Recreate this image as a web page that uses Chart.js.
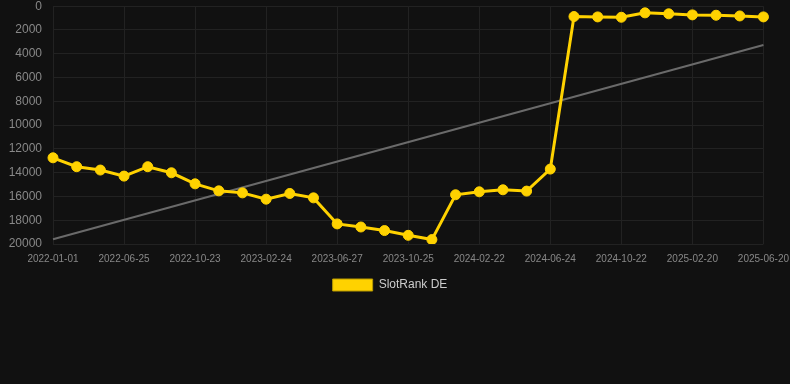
<!DOCTYPE html>
<html>
<head>
<meta charset="utf-8">
<script src="https://cdn.jsdelivr.net/npm/chart.js@4.4.1/dist/chart.umd.min.js"></script>
<style>
  html, body { margin: 0; padding: 0; background: #111111; overflow: hidden; }
  #wrap { width: 790px; height: 305px; position: relative; margin-top: -4px; }
</style>
</head>
<body>
<div id="wrap"><canvas id="c"></canvas></div>
<script>
const dates = [
  '2022-01-01','2022-02-28','2022-04-27','2022-06-25','2022-08-04','2022-09-13',
  '2022-10-23','2022-12-03','2023-01-13','2023-02-24','2023-04-05','2023-05-16',
  '2023-06-27','2023-08-06','2023-09-15','2023-10-25','2023-12-04','2024-01-13',
  '2024-02-22','2024-04-03','2024-05-14','2024-06-24','2024-08-03','2024-09-12',
  '2024-10-22','2024-12-01','2025-01-10','2025-02-20','2025-04-01','2025-05-11',
  '2025-06-20'
];
const rankDE = [
  12750, 13500, 13780, 14290, 13500, 14010,
  14940, 15530, 15700, 16230, 15750, 16120,
  18310, 18570, 18870, 19270, 19630, 15860,
  15610, 15440, 15550, 13700, 870, 900,
  930, 560, 640, 730, 760, 820,
  900
];
const trendStart = 19600;
const trendEnd = 3270;
const yTicks = [0, 2000, 4000, 6000, 8000, 10000, 12000, 14000, 16000, 18000, 20000];

const trend = dates.map((d, i) => i === 0 ? trendStart : (i === dates.length - 1 ? trendEnd : null));

Chart.defaults.font.family = "'Liberation Sans', Arial, Helvetica, sans-serif";

new Chart(document.getElementById('c'), {
  type: 'line',
  data: {
    labels: dates,
    datasets: [
      {
        label: 'SlotRank DE',
        data: rankDE,
        borderColor: '#FFD200',
        backgroundColor: '#FFD200',
        borderWidth: 3,
        pointRadius: 5,
        pointHoverRadius: 5,
        pointBackgroundColor: '#FFD200',
        pointBorderColor: '#FFD200',
        pointBorderWidth: 1,
        tension: 0,
        order: 1
      },
      {
        label: 'trend',
        data: trend,
        spanGaps: true,
        borderColor: '#6a6a6a',
        backgroundColor: '#6a6a6a',
        borderWidth: 2,
        pointRadius: 0,
        tension: 0,
        order: 2
      }
    ]
  },
  options: {
    responsive: true,
    maintainAspectRatio: false,
    animation: false,
    layout: { padding: { right: 10 } },
    plugins: {
      legend: {
        position: 'bottom',
        labels: {
          color: '#cccccc',
          boxWidth: 40,
          boxHeight: 12,
          font: { size: 12 },
          filter: (item) => item.text !== 'trend',
          generateLabels: (chart) => {
            const items = Chart.defaults.plugins.legend.labels.generateLabels(chart);
            items.forEach(it => { it.lineWidth = 1; it.strokeStyle = '#b89a00'; });
            return items;
          }
        }
      },
      tooltip: { enabled: false }
    },
    scales: {
      x: {
        grid: {
          color: (ctx) => (ctx.index % 3 === 0 ? '#222222' : 'transparent'),
          tickColor: 'transparent'
        },
        border: { display: false },
        afterFit: (axis) => { axis.height += 3; },
        ticks: {
          autoSkip: false,
          maxRotation: 0,
          padding: 1,
          color: '#888888',
          font: { size: 10 },
          callback: function (v, i) { return i % 3 === 0 ? dates[i] : ''; }
        }
      },
      y: {
        reverse: true,
        min: 0,
        max: 20000,
        afterBuildTicks: (axis) => { axis.ticks = yTicks.map(v => ({ value: v })); },
        afterFit: (axis) => { axis.width = 53; },
        grid: { color: '#222222', tickColor: 'transparent' },
        border: { display: false },
        ticks: {
          color: '#888888',
          font: { size: 12 },
          callback: (v) => String(v)
        }
      }
    }
  }
});
</script>
</body>
</html>
